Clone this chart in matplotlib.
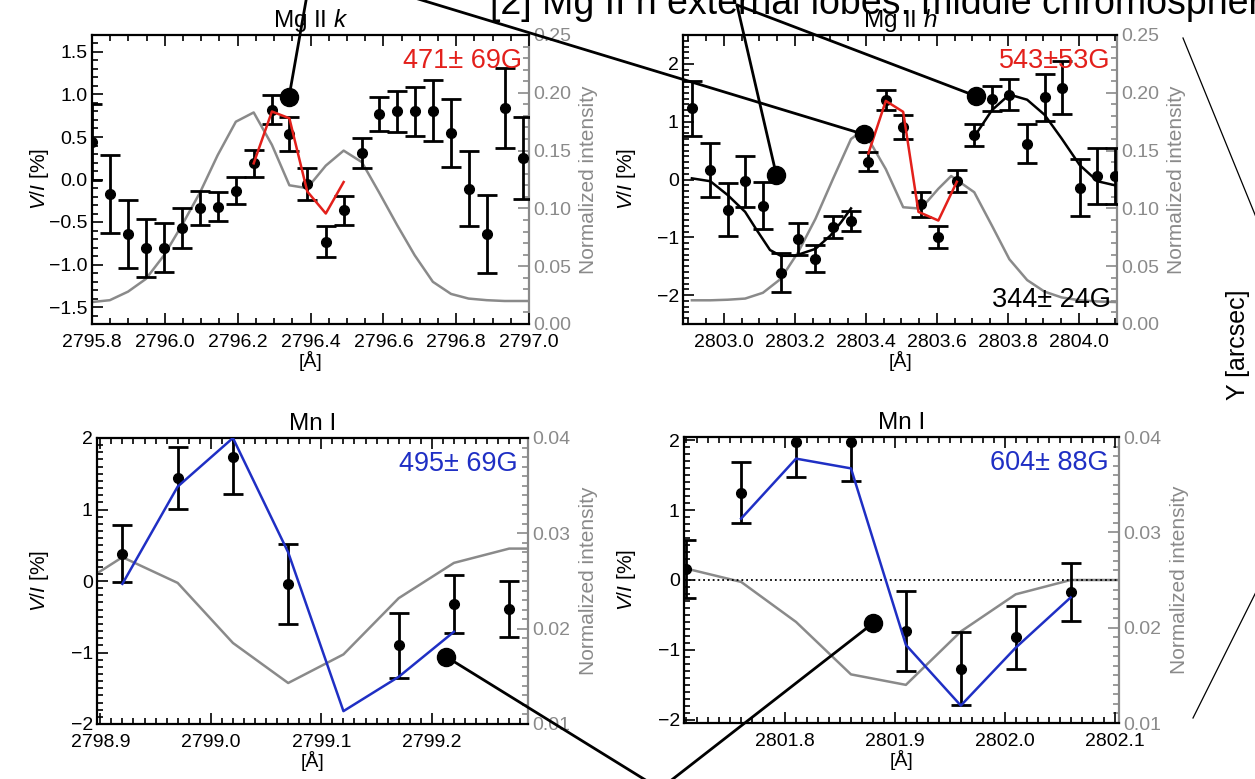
import matplotlib
matplotlib.use("Agg")
import matplotlib.pyplot as plt
from matplotlib.ticker import MultipleLocator, FuncFormatter
from matplotlib.patches import ConnectionPatch
from matplotlib.lines import Line2D

plt.rcParams['font.family'] = ['Liberation Sans', 'DejaVu Sans']
plt.rcParams['mathtext.fontset'] = 'custom'
plt.rcParams['mathtext.rm'] = 'Liberation Sans'
plt.rcParams['mathtext.it'] = 'Liberation Sans:italic'

W, H = 1255, 779
GRAY = '#8a8a8a'
RED = '#e3201b'
BLUE = '#1f2fc4'

# ---- Mg II k (top left) ----
k_wav = [2795.800, 2795.849, 2795.899, 2795.948, 2795.998, 2796.047, 2796.097, 2796.145,
         2796.195, 2796.244, 2796.294, 2796.342, 2796.391, 2796.442, 2796.491, 2796.541,
         2796.588, 2796.638, 2796.686, 2796.736, 2796.786, 2796.834, 2796.884, 2796.933,
         2796.983]
k_v = [0.44, -0.17, -0.64, -0.81, -0.80, -0.57, -0.33, -0.32, -0.13, 0.19, 0.82, 0.54,
       -0.05, -0.73, -0.36, 0.31, 0.77, 0.80, 0.80, 0.81, 0.55, -0.11, -0.64, 0.84, 0.25]
k_err = [0.45, 0.46, 0.40, 0.34, 0.29, 0.23, 0.20, 0.17, 0.16, 0.16, 0.17, 0.20, 0.19,
         0.18, 0.17, 0.18, 0.20, 0.24, 0.29, 0.36, 0.40, 0.44, 0.46, 0.47, 0.48]
k_int_wav = k_wav + [2797.03]
k_int = [0.019, 0.0206, 0.028, 0.039, 0.0595, 0.0855, 0.114, 0.146, 0.175, 0.183, 0.155,
         0.120, 0.1175, 0.137, 0.150, 0.140, 0.114, 0.0855, 0.0595, 0.0365, 0.026, 0.022,
         0.0206, 0.0199, 0.0199, 0.0199]
k_fit_wav = [2796.244, 2796.294, 2796.342, 2796.391, 2796.442, 2796.491]
k_fit = [0.19, 0.80, 0.72, -0.14, -0.40, -0.03]

# ---- Mg II h (top right) ----
h_wav = [2802.910, 2802.962, 2803.011, 2803.060, 2803.110, 2803.160, 2803.209, 2803.258,
         2803.308, 2803.358, 2803.407, 2803.456, 2803.505, 2803.555, 2803.604, 2803.656,
         2803.705, 2803.755, 2803.804, 2803.854, 2803.903, 2803.951, 2804.002, 2804.052,
         2804.101]
h_v = [1.23, 0.16, -0.52, -0.03, -0.45, -1.61, -1.03, -1.37, -0.83, -0.72, 0.31, 1.38,
       0.91, -0.43, -0.99, -0.03, 0.77, 1.40, 1.47, 0.62, 1.42, 1.59, -0.14, 0.06, 0.06]
h_err = [0.48, 0.47, 0.46, 0.44, 0.40, 0.33, 0.27, 0.23, 0.19, 0.17, 0.16, 0.17, 0.21,
         0.22, 0.19, 0.19, 0.19, 0.22, 0.27, 0.34, 0.41, 0.46, 0.49, 0.49, 0.48]
h_int_wav = [2802.910, 2802.962, 2803.011, 2803.060, 2803.110, 2803.160, 2803.209,
             2803.258, 2803.308, 2803.358, 2803.380, 2803.407, 2803.456, 2803.505,
             2803.555, 2803.604, 2803.640, 2803.705, 2803.755, 2803.804, 2803.854,
             2803.903, 2803.951, 2804.002, 2804.052, 2804.101, 2804.130]
h_int = [0.0205, 0.0205, 0.021, 0.022, 0.027, 0.039, 0.062, 0.091, 0.126, 0.160, 0.165,
         0.160, 0.134, 0.101, 0.0998, 0.117, 0.128, 0.114, 0.085, 0.056, 0.038, 0.028,
         0.023, 0.0205, 0.0195, 0.019, 0.019]
h_fit_wav = [2803.407, 2803.456, 2803.505, 2803.548, 2803.604, 2803.656]
h_fit = [0.45, 1.36, 1.17, -0.56, -0.71, -0.04]
h_low_wav = [2802.910, 2802.962, 2803.011, 2803.060, 2803.090, 2803.130, 2803.160,
             2803.200, 2803.258, 2803.300, 2803.330, 2803.358]
h_low = [0.02, -0.03, -0.27, -0.56, -0.85, -1.22, -1.32, -1.32, -1.20, -0.97, -0.74, -0.50]
h_high_wav = [2803.705, 2803.755, 2803.804, 2803.854, 2803.903, 2803.951, 2804.002,
              2804.052, 2804.101]
h_high = [0.74, 1.20, 1.47, 1.38, 1.12, 0.71, 0.25, -0.03, -0.10]

# ---- Mn I (bottom left) ----
m1_wav = [2798.92, 2798.97, 2799.02, 2799.07, 2799.17, 2799.22, 2799.27]
m1_v = [0.38, 1.44, 1.74, -0.04, -0.90, -0.32, -0.39]
m1_err = [0.40, 0.43, 0.52, 0.56, 0.45, 0.41, 0.39]
m1_int_wav = [2798.87, 2798.92, 2798.97, 2799.02, 2799.07, 2799.12, 2799.17, 2799.22,
              2799.27, 2799.32]
m1_int = [0.0238, 0.0275, 0.0248, 0.0185, 0.0143, 0.0173, 0.0232, 0.0269, 0.0284, 0.0284]
m1_fit_wav = [2798.92, 2798.97, 2799.02, 2799.07, 2799.12, 2799.17, 2799.22]
m1_fit = [-0.04, 1.32, 2.0, 0.40, -1.82, -1.34, -0.71]

# ---- Mn I (bottom right) ----
m2_wav = [2801.71, 2801.76, 2801.81, 2801.86, 2801.91, 2801.96, 2802.01, 2802.06]
m2_v = [0.16, 1.25, 1.98, 1.98, -0.73, -1.27, -0.82, -0.17]
m2_err = [0.42, 0.44, 0.50, 0.56, 0.57, 0.52, 0.45, 0.42]
m2_int_wav = [2801.71, 2801.76, 2801.81, 2801.86, 2801.91, 2801.96, 2802.01, 2802.06,
              2802.11]
m2_int = [0.0262, 0.0248, 0.0206, 0.0151, 0.0140, 0.0196, 0.0235, 0.0250, 0.0250]
m2_fit_wav = [2801.76, 2801.81, 2801.86, 2801.91, 2801.96, 2802.01, 2802.06]
m2_fit = [0.88, 1.74, 1.60, -0.93, -1.80, -0.97, -0.25]


def minus(fmt):
    return FuncFormatter(lambda v, p: fmt.format(v).replace('-', '\u2212'))


def rect(l, r, t, b):
    return [l / W, 1 - b / H, (r - l) / W, (b - t) / H]


fig = plt.figure(figsize=(W / 100, H / 100), dpi=100)


def panel(box, title, xlim, ylim, ilim, xmaj, xmin, ymaj, ymin, imaj, imin, yfmt, ifmt,
          ylab_x):
    ax = fig.add_axes(rect(*box))
    ax2 = ax.twinx()
    ax.set_zorder(ax2.get_zorder() + 1)
    ax.patch.set_visible(False)
    ax.set_xlim(xlim)
    ax.set_ylim(ylim)
    ax2.set_ylim(ilim)
    for s in ['left', 'top', 'bottom']:
        ax.spines[s].set_linewidth(1.6)
        ax2.spines[s].set_visible(False)
    ax.spines['right'].set_visible(False)
    ax2.spines['right'].set_color(GRAY)
    ax2.spines['right'].set_linewidth(1.6)
    ax.xaxis.set_major_locator(MultipleLocator(xmaj))
    ax.xaxis.set_minor_locator(MultipleLocator(xmin))
    ax.yaxis.set_major_locator(MultipleLocator(ymaj))
    ax.yaxis.set_minor_locator(MultipleLocator(ymin))
    ax.yaxis.set_major_formatter(minus(yfmt))
    ax.xaxis.set_major_formatter(FuncFormatter(lambda v, p: f"{v:.1f}"))
    ax2.yaxis.set_major_locator(MultipleLocator(imaj))
    ax2.yaxis.set_minor_locator(MultipleLocator(imin))
    ax2.yaxis.set_major_formatter(FuncFormatter(lambda v, p: ifmt.format(v)))
    ax.tick_params(which='both', direction='in', top=True, right=False, width=1.2,
                   labelsize=14)
    ax.tick_params(axis='x', pad=7)
    ax.tick_params(axis='y', pad=3)
    ax.tick_params(which='major', length=8)
    ax.tick_params(which='minor', length=4)
    ax2.tick_params(which='both', direction='in', colors=GRAY, width=1.2, labelsize=14,
                    pad=3, labelcolor=GRAY)
    ax2.tick_params(which='major', length=8)
    ax2.tick_params(which='minor', length=4)
    ax.set_title(title, fontsize=17.5, pad=6)
    ax.set_xlabel('[Å]', fontsize=14, labelpad=0)
    ax.set_ylabel('$V/I$ [%]', fontsize=15)
    l, r = box[0], box[1]
    ax.yaxis.set_label_coords((ylab_x - l) / (r - l), 0.5)
    ax2.set_ylabel('Normalized intensity', fontsize=15, color=GRAY, labelpad=6)
    return ax, ax2


def stokes(ax, wav, v, err):
    ax.errorbar(wav, v, yerr=err, fmt='o', color='k', ms=7, capsize=7,
                elinewidth=2, capthick=2, zorder=3)


ax1, ax1i = panel((92, 529, 35, 324), 'Mg II $k$', (2795.8, 2797.0), (-1.7, 1.7),
                  (0, 0.25), 0.2, 0.05, 0.5, 0.1, 0.05, 0.01, '{:.1f}', '{:.2f}', 51)
ax1i.plot(k_int_wav, k_int, color=GRAY, lw=1.8)
stokes(ax1, k_wav, k_v, k_err)
ax1.plot(k_fit_wav, k_fit, color=RED, lw=1.8, zorder=4)
ax1.text(0.985, 0.955, '471± 69G', color=RED, fontsize=19.5, ha='right', va='top',
         transform=ax1.transAxes)

ax2, ax2i = panel((683, 1117, 35, 324), 'Mg II $h$', (2802.885, 2804.107), (-2.5, 2.5),
                  (0, 0.25), 0.2, 0.05, 1, 0.1, 0.05, 0.01, '{:.0f}', '{:.2f}', 638)
ax2i.plot(h_int_wav, h_int, color=GRAY, lw=1.8)
stokes(ax2, h_wav, h_v, h_err)
ax2.plot(h_fit_wav, h_fit, color=RED, lw=1.8, zorder=4)
ax2.plot(h_low_wav, h_low, color='k', lw=1.8, zorder=4)
ax2.plot(h_high_wav, h_high, color='k', lw=1.8, zorder=4)
ax2.text(0.985, 0.955, '543±53G', color=RED, fontsize=19.5, ha='right', va='top',
         transform=ax2.transAxes)
ax2.text(0.985, 0.06, '344± 24G', color='k', fontsize=19.5, ha='right', va='baseline',
         transform=ax2.transAxes)

ax3, ax3i = panel((97, 528, 438, 724), 'Mn I', (2798.897, 2799.287), (-2, 2),
                  (0.01, 0.04), 0.1, 0.01, 1, 0.1, 0.01, 0.001, '{:.0f}', '{:.2f}', 51)
ax3i.plot(m1_int_wav, m1_int, color=GRAY, lw=1.8)
stokes(ax3, m1_wav, m1_v, m1_err)
ax3.plot(m1_fit_wav, m1_fit, color=BLUE, lw=1.8, zorder=4)
ax3.text(0.977, 0.955, '495± 69G', color=BLUE, fontsize=19.5, ha='right', va='top',
         transform=ax3.transAxes)

ax4, ax4i = panel((684, 1119, 437, 723), 'Mn I', (2801.708, 2802.104), (-2.05, 2.05),
                  (0.01, 0.04), 0.1, 0.01, 1, 0.1, 0.01, 0.001, '{:.0f}', '{:.2f}', 638)
ax4i.plot(m2_int_wav, m2_int, color=GRAY, lw=1.8)
ax4.axhline(0, color='k', ls=':', lw=1.3, zorder=2)
stokes(ax4, m2_wav, m2_v, m2_err)
ax4.plot(m2_fit_wav, m2_fit, color=BLUE, lw=1.8, zorder=4)
ax4.text(0.977, 0.955, '604± 88G', color=BLUE, fontsize=19.5, ha='right', va='top',
         transform=ax4.transAxes)

# annotation pointers: (axes, dot position in data, far end in image pixels from top-left)
pointers = [
    (ax1, (2796.341, 0.97), (307, -5)),
    (ax2, (2803.395, 0.78), (405, -5)),
    (ax2, (2803.709, 1.445), (737, 5)),
    (ax2, (2803.148, 0.075), (737, 5)),
    (ax3, (2799.213, -1.06), (660, 789)),
    (ax4, (2801.880, -0.62), (660, 789)),
]
for ax, xy, far in pointers:
    ax.plot(*xy, 'o', color='k', ms=13, zorder=6, clip_on=False)
    con = ConnectionPatch(xyA=xy, coordsA=ax.transData,
                          xyB=(far[0] / W, 1 - far[1] / H), coordsB=fig.transFigure,
                          color='k', lw=2, zorder=6)
    fig.add_artist(con)

# thin lines toward the map on the right
for (x0, y0), (x1, y1) in [((1183, 38), (1258, 222)), ((1258, 588), (1193, 718))]:
    fig.add_artist(Line2D([x0 / W, x1 / W], [1 - y0 / H, 1 - y1 / H], color='k', lw=0.9,
                          transform=fig.transFigure))

fig.text(490 / W, 1 - 14 / H, '[2] Mg II h external lobes: middle chromosphere',
         fontsize=27, ha='left', va='baseline')
fig.text(1238 / W, 1 - 345 / H, 'Y [arcsec]', fontsize=18, rotation=90,
         ha='center', va='center')

fig.savefig('out.png', dpi=100)
